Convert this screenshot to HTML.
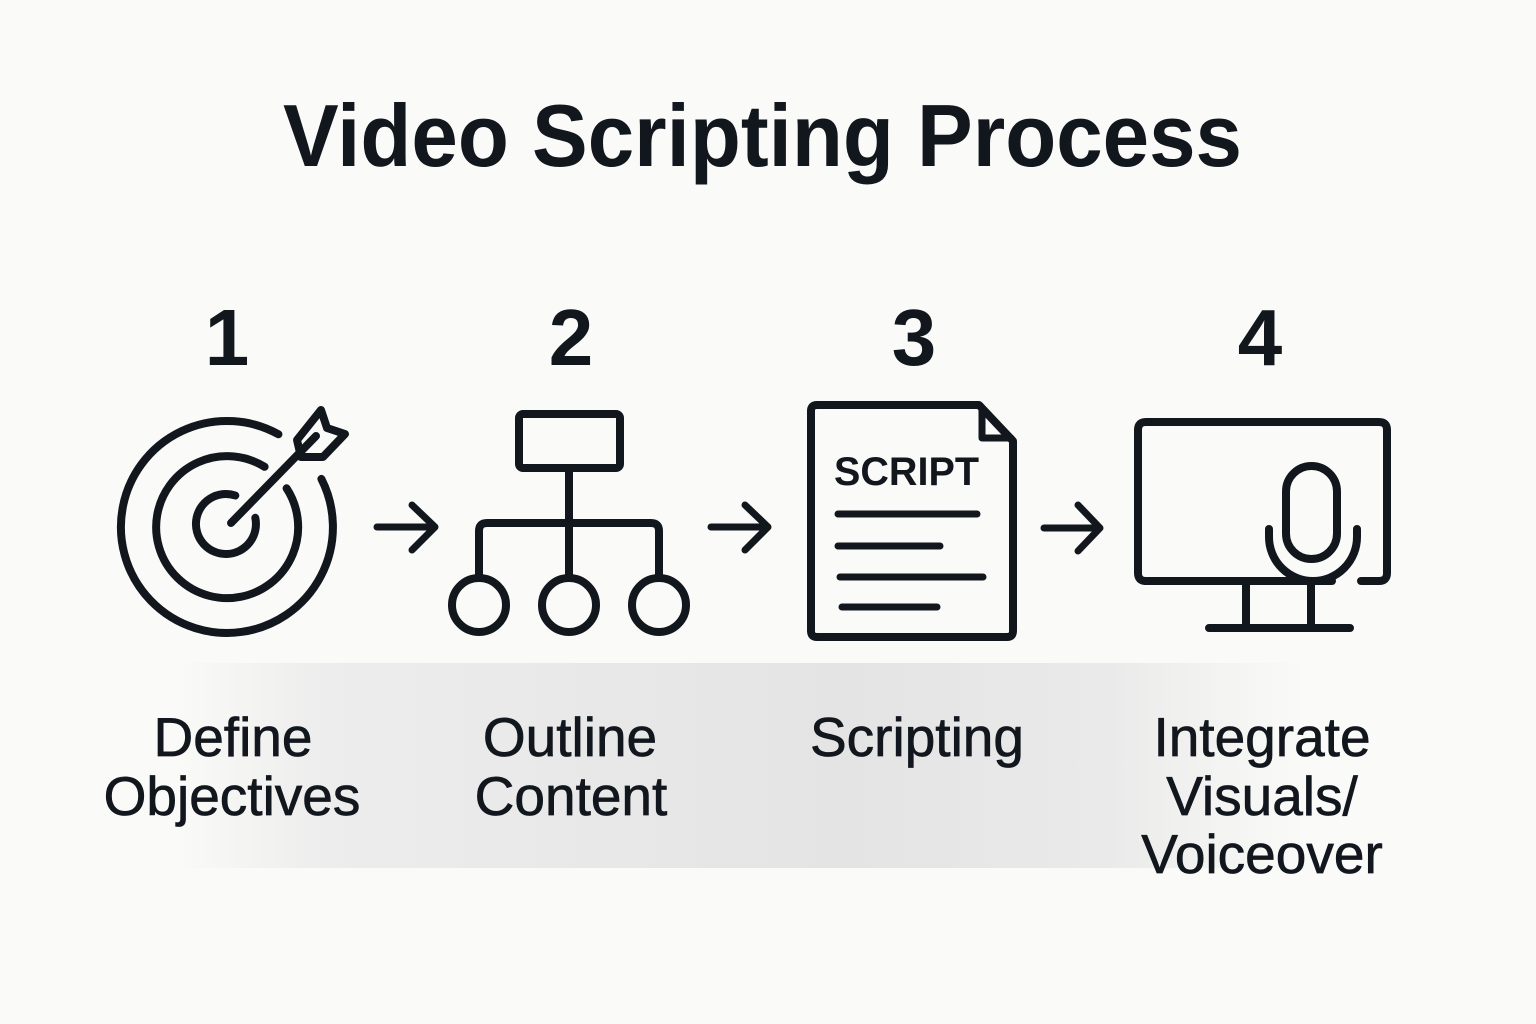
<!DOCTYPE html>
<html>
<head>
<meta charset="utf-8">
<style>
  html, body { margin: 0; padding: 0; background: #fafaf8; }
  body { width: 1536px; height: 1024px; overflow: hidden; }
  svg { display: block; }
  .t { font-family: "Liberation Sans", "DejaVu Sans", sans-serif; fill: #12171e; }
</style>
</head>
<body>
<svg width="1536" height="1024" viewBox="0 0 1536 1024" xmlns="http://www.w3.org/2000/svg">
  <defs>
    <linearGradient id="band" x1="0" y1="0" x2="1536" y2="0" gradientUnits="userSpaceOnUse">
      <stop offset="0" stop-color="#fafaf8" stop-opacity="1"/>
      <stop offset="0.115" stop-color="#fafaf8"/>
      <stop offset="0.21" stop-color="#ededed"/>
      <stop offset="0.55" stop-color="#e4e4e4"/>
      <stop offset="0.72" stop-color="#eaeaea"/>
      <stop offset="0.85" stop-color="#fafaf8"/>
      <stop offset="1" stop-color="#fafaf8"/>
    </linearGradient>
  </defs>

  <rect x="0" y="0" width="1536" height="1024" fill="#fafaf8"/>
  <rect x="0" y="663" width="1536" height="205" fill="url(#band)"/>

  <!-- Title -->
  <text class="t" x="283" y="166" font-size="88" font-weight="bold" textLength="959" lengthAdjust="spacingAndGlyphs">Video Scripting Process</text>

  <!-- Numbers -->
  <text class="t" x="227" y="365" font-size="80" font-weight="bold" text-anchor="middle">1</text>
  <text class="t" x="571" y="365" font-size="80" font-weight="bold" text-anchor="middle">2</text>
  <text class="t" x="914" y="365" font-size="80" font-weight="bold" text-anchor="middle">3</text>
  <text class="t" x="1260" y="365" font-size="80" font-weight="bold" text-anchor="middle">4</text>

  <g fill="none" stroke="#12171e" stroke-width="8" stroke-linecap="round" stroke-linejoin="round">
    <!-- Target -->
    <path d="M 321.4 478.9 A 106 106 0 1 1 278.4 434.3"/>
    <path d="M 286.6 488.3 A 71 71 0 1 1 264.6 466.8"/>
    <path d="M 255.3 517.8 A 30 30 0 1 1 235.3 495.5"/>
    <path d="M 231 523 L 316 436"/>
    <path d="M 321 410 L 327 428 L 345 434 L 323 457 L 301 457 L 297 440 Z"/>

    <!-- Arrow 1 -->
    <path d="M 377 527 L 435 527 M 412 505 L 435 527 L 412 550" stroke-width="7"/>

    <!-- Org chart -->
    <rect x="519" y="414" width="101" height="54" rx="4"/>
    <path d="M 569 468 L 569 578"/>
    <path d="M 479 578 L 479 531 Q 479 523 487 523 L 651 523 Q 659 523 659 531 L 659 578"/>
    <circle cx="479" cy="605" r="27"/>
    <circle cx="569" cy="605" r="27"/>
    <circle cx="659" cy="605" r="27"/>

    <!-- Arrow 2 -->
    <path d="M 711 527 L 768 527 M 745 505 L 768 527 L 745 550" stroke-width="7"/>

    <!-- Document -->
    <path d="M 817 405 L 979 405 L 1013 441 L 1013 631 Q 1013 637 1007 637 L 817 637 Q 811 637 811 631 L 811 411 Q 811 405 817 405 Z"/>
    <path d="M 982 408 L 982 438 L 1011 438" stroke-width="7"/>
    <path d="M 838 514 L 977 514 M 838 546 L 940 546 M 840 577 L 983 577 M 842 607 L 937 607" stroke-width="7"/>

    <!-- Arrow 3 -->
    <path d="M 1044 528 L 1100 528 M 1078 505 L 1100 528 L 1078 551" stroke-width="7"/>

    <!-- Monitor -->
    <path d="M 1332 581 L 1146 581 Q 1138 581 1138 573 L 1138 430 Q 1138 422 1146 422 L 1379 422 Q 1387 422 1387 430 L 1387 573 Q 1387 581 1379 581 L 1361 581"/>
    <rect x="1286" y="466" width="51" height="93" rx="25.5"/>
    <path d="M 1269 529 L 1269 537 A 44 44 0 0 0 1357 537 L 1357 529"/>
    <path d="M 1246 583 L 1246 628 M 1311 583 L 1311 628 M 1209 628 L 1350 628"/>
  </g>

  <!-- SCRIPT label in document -->
  <text class="t" x="834" y="485" font-size="40" font-weight="bold" textLength="145" lengthAdjust="spacingAndGlyphs">SCRIPT</text>

  <!-- Step labels -->
  <g class="t" font-size="55" text-anchor="middle" stroke="#12171e" stroke-width="0.7">
    <text x="233" y="756">Define</text>
    <text x="232" y="815">Objectives</text>
    <text x="570" y="756">Outline</text>
    <text x="571" y="815">Content</text>
    <text x="917" y="756">Scripting</text>
    <text x="1262" y="756">Integrate</text>
    <text x="1262" y="815">Visuals/</text>
    <text x="1262" y="873">Voiceover</text>
  </g>
</svg>
</body>
</html>
